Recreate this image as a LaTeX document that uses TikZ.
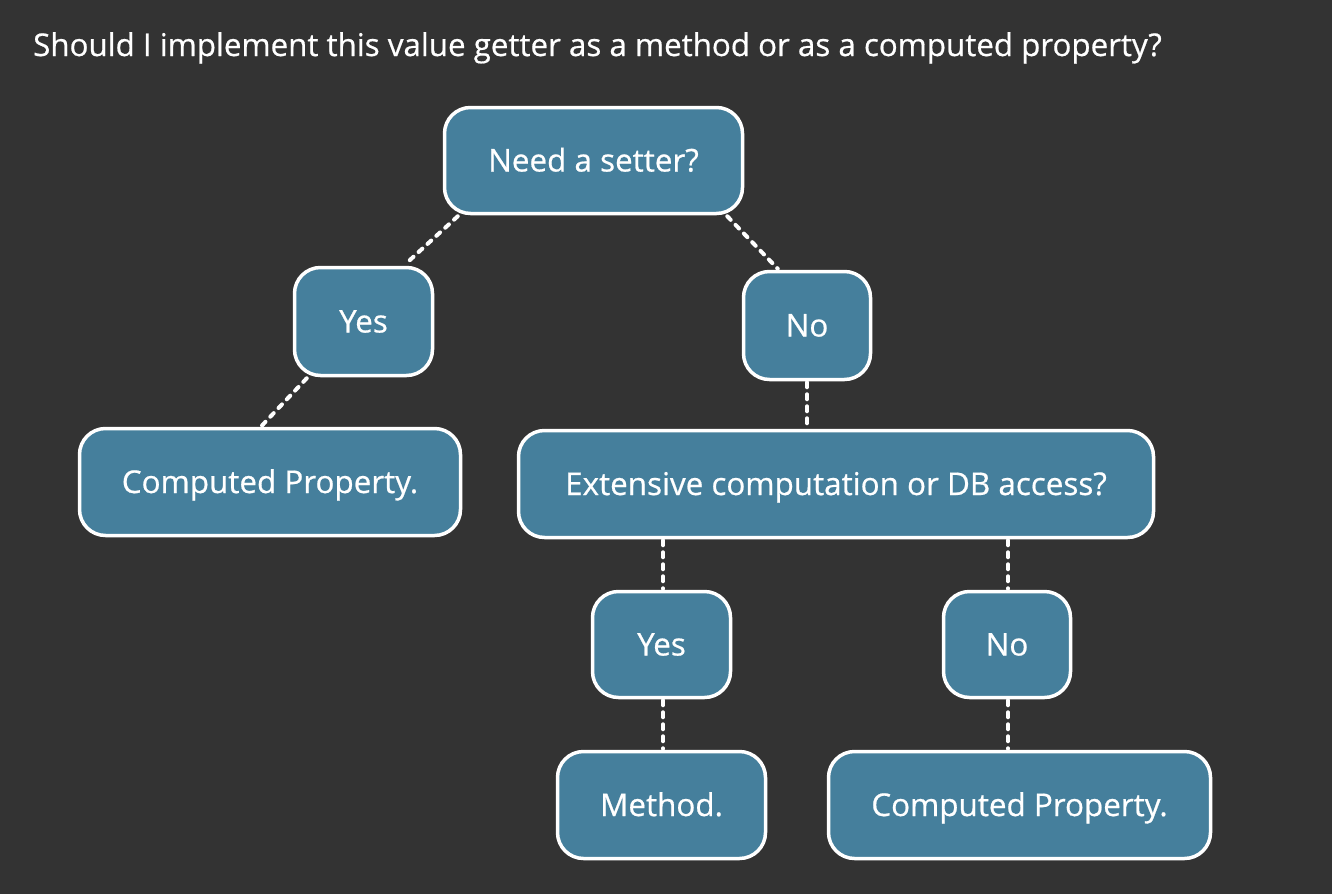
\documentclass[tikz,border=0pt]{standalone}
\usepackage{fontspec}
\setmainfont{Open Sans}[FakeBold=0.6]
\usetikzlibrary{calc}
\definecolor{bg}{HTML}{333333}
\definecolor{boxfill}{HTML}{457F9C}
\begin{document}
\begin{tikzpicture}[x=1pt,y=-1pt,
  box/.style={draw=white, line width=3.5pt, fill=boxfill, rounded corners=26pt,
    text=white, font=\fontsize{31.4}{35}\selectfont, inner sep=0pt, anchor=center,
    text height=22pt, text depth=0pt},
  link/.style={draw=white, line width=4pt, line cap=round, dash pattern=on 5pt off 7pt}]
\fill[bg] (0,0) rectangle (1332,894);
\useasboundingbox (0,0) rectangle (1332,894);
\node[anchor=base west, text=white, font=\fontsize{31.3}{35}\selectfont, inner sep=0pt] (title) at (33,56)
  {Should I implement this value getter as a method or as a computed property?};
\node[box, minimum width=298pt, minimum height=106pt] (need) at (593.5,160.5) {Need a setter?};
\node[box, minimum width=138pt, minimum height=108pt] (yes1) at (363.5,321.5) {Yes};
\node[box, minimum width=127pt, minimum height=108pt] (no1) at (807,325.5) {No};
\node[box, minimum width=381pt, minimum height=107pt] (cp1) at (270,482) {Computed Property.};
\node[box, minimum width=635pt, minimum height=107pt] (ext) at (836,484) {Extensive computation or DB access?};
\node[box, minimum width=138pt, minimum height=106pt] (yes2) at (661.5,644.5) {Yes};
\node[box, minimum width=127pt, minimum height=106pt] (no2) at (1007,644.5) {No};
\node[box, minimum width=208pt, minimum height=107pt] (meth) at (661.5,805) {Method.};
\node[box, minimum width=382pt, minimum height=107pt] (cp2) at (1019.5,805) {Computed Property.};
\draw[link] ([xshift=15pt,yshift=-1pt]need.south west) -- ([xshift=112pt,yshift=1pt]yes1.north west);
\draw[link] ([xshift=-17pt,yshift=-1pt]need.south east) -- ([xshift=36pt,yshift=1pt]no1.north west);
\draw[link] ([xshift=14pt,yshift=-1pt]yes1.south west) -- ([xshift=184pt,yshift=1pt]cp1.north west);
\draw[link] ([yshift=-1pt]no1.south) -- ([yshift=1pt]no1.south |- ext.north);
\draw[link] ([xshift=1.5pt,yshift=-1pt]yes2.north |- ext.south) -- ([xshift=1.5pt,yshift=1pt]yes2.north);
\draw[link] ([xshift=1pt,yshift=-1pt]no2.north |- ext.south) -- ([xshift=1pt,yshift=1pt]no2.north);
\draw[link] ([xshift=1.5pt,yshift=-1pt]yes2.south) -- ([xshift=1.5pt,yshift=1pt]yes2.south |- meth.north);
\draw[link] ([xshift=1pt,yshift=-1pt]no2.south) -- ([xshift=1pt,yshift=1pt]no2.south |- cp2.north);
\end{tikzpicture}
\end{document}
